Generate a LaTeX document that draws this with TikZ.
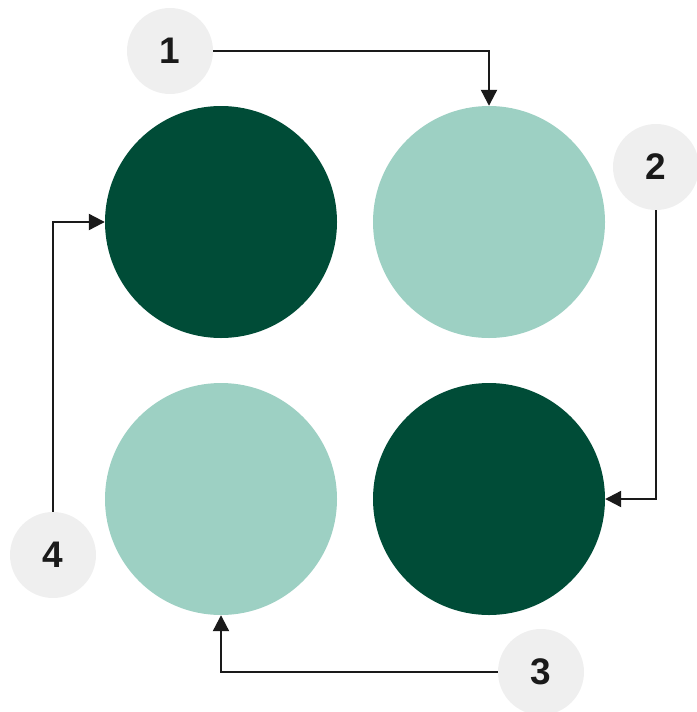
\documentclass[tikz,border=0pt]{standalone}
\usepackage{fontspec}
\setmainfont{Liberation Sans}
\usepackage{tikz}
\usetikzlibrary{arrows.meta}

\definecolor{darkgreen}{HTML}{004C37}
\definecolor{lightgreen}{HTML}{9DD0C3}
\definecolor{stepgray}{HTML}{EFEFEF}
\definecolor{inkline}{HTML}{1A1A1A}

\begin{document}
\begin{tikzpicture}[
    x=1pt, y=-1pt,
    bigdot/.style={circle, minimum size=232pt, inner sep=0pt},
    num/.style={circle, fill=stepgray, minimum size=86pt, inner sep=0pt,
                font=\fontsize{37}{40}\selectfont\bfseries, text=inkline},
    flow/.style={-{Triangle[length=16pt,width=16pt]}, line width=2.2pt, inkline},
  ]
    \useasboundingbox (0,0) rectangle (696,712);

    % quadrants
    \node[bigdot, fill=darkgreen]  (tl) at (221,222) {};
    \node[bigdot, fill=lightgreen] (tr) at (489,222) {};
    \node[bigdot, fill=lightgreen] (bl) at (221,499) {};
    \node[bigdot, fill=darkgreen]  (br) at (489,499) {};

    % step markers
    \node[num] (s1) at (170,51)  {1};
    \node[num] (s2) at (656,167) {2};
    \node[num] (s3) at (541,672) {3};
    \node[num] (s4) at (53,555)  {4};

    % cycle
    \draw[flow] (s1) -| (tr);
    \draw[flow] (s2) |- (br);
    \draw[flow] (s3) -| (bl);
    \draw[flow] (s4) |- (tl);
  \end{tikzpicture}
\end{document}
